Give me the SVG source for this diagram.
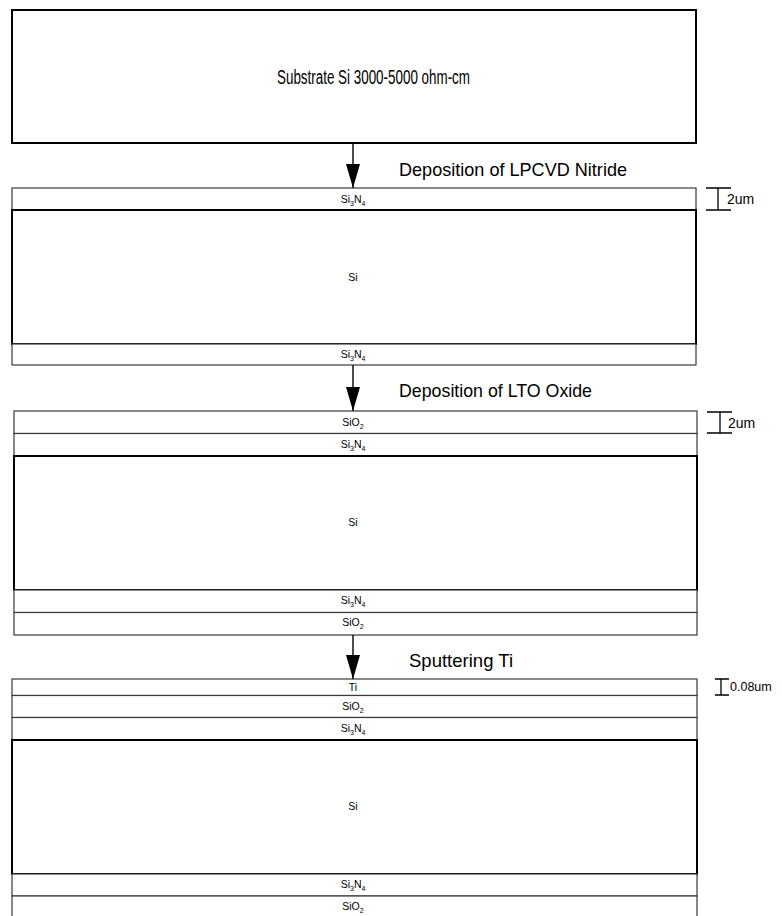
<svg xmlns="http://www.w3.org/2000/svg" width="782" height="916" viewBox="0 0 782 916">
<style>
.box{fill:#fff;stroke:#000;stroke-width:2}
.layer{fill:#fff;stroke:#3a3a3a;stroke-width:1.2}
.si{fill:#fff;stroke:#000;stroke-width:2}
.lbl{font-family:"Liberation Sans",Arial,sans-serif;font-size:10.5px;fill:#000;text-anchor:middle}
.sub{font-size:7px}
.title{font-family:"Liberation Sans",Arial,sans-serif;font-size:19px;fill:#000}
.dimt{font-family:"Liberation Sans",Arial,sans-serif;font-size:14px;fill:#000}
.dim{stroke:#000;stroke-width:1.3;fill:none}
.conn{stroke:#000;stroke-width:1.4;fill:none;marker-end:url(#ah)}
</style>
<defs>
<marker id="ah" markerUnits="userSpaceOnUse" markerWidth="24" markerHeight="14" refX="24" refY="7" orient="auto" viewBox="0 0 24 14">
<path d="M0,0 L24,7 L0,14 Z" fill="#000"/>
</marker>
</defs>
<rect width="782" height="916" fill="#fff"/>

<g id="substrate">
<rect class="box" x="12" y="10" width="684" height="133"/>
<text class="title" x="277" y="84" style="font-size:20px" textLength="193" lengthAdjust="spacingAndGlyphs">Substrate Si 3000-5000 ohm-cm</text>
</g>

<g id="stack1">
<rect class="layer" x="12" y="188" width="684" height="22"/>
<rect class="si" x="12" y="210" width="684" height="134"/>
<rect class="layer" x="12" y="344" width="684" height="21"/>
<text class="lbl" x="353" y="203">Si<tspan class="sub" dy="3">3</tspan><tspan dy="-3">N</tspan><tspan class="sub" dy="3">4</tspan></text>
<text class="lbl" x="353" y="281">Si</text>
<text class="lbl" x="353" y="358">Si<tspan class="sub" dy="3">3</tspan><tspan dy="-3">N</tspan><tspan class="sub" dy="3">4</tspan></text>
</g>
<g id="dim1">
<path class="dim" d="M718,188 V210 M706,188 H731 M706,210 H731"/>
<text class="dimt" x="727" y="204">2um</text>
</g>

<g id="stack2">
<rect class="layer" x="14" y="411" width="683" height="22.5"/>
<rect class="layer" x="14" y="433.5" width="683" height="22.5"/>
<rect class="si" x="14" y="456" width="683" height="134"/>
<rect class="layer" x="14" y="590" width="683" height="22.5"/>
<rect class="layer" x="14" y="612.5" width="683" height="22.5"/>
<text class="lbl" x="353" y="426">SiO<tspan class="sub" dy="3">2</tspan></text>
<text class="lbl" x="353" y="448">Si<tspan class="sub" dy="3">3</tspan><tspan dy="-3">N</tspan><tspan class="sub" dy="3">4</tspan></text>
<text class="lbl" x="353" y="526">Si</text>
<text class="lbl" x="353" y="604">Si<tspan class="sub" dy="3">3</tspan><tspan dy="-3">N</tspan><tspan class="sub" dy="3">4</tspan></text>
<text class="lbl" x="353" y="626">SiO<tspan class="sub" dy="3">2</tspan></text>
</g>
<g id="dim2">
<path class="dim" d="M720,412 V433 M707,412 H732 M707,433 H732"/>
<text class="dimt" x="728" y="428">2um</text>
</g>

<g id="stack3">
<rect class="layer" x="12" y="679" width="685" height="16.5"/>
<rect class="layer" x="12" y="695.5" width="685" height="22"/>
<rect class="layer" x="12" y="717.5" width="685" height="22.5"/>
<rect class="si" x="12" y="740" width="685" height="134"/>
<rect class="layer" x="12" y="874" width="685" height="22"/>
<rect class="layer" x="12" y="896" width="685" height="22"/>
<text class="lbl" x="353" y="691">Ti</text>
<text class="lbl" x="353" y="710">SiO<tspan class="sub" dy="3">2</tspan></text>
<text class="lbl" x="353" y="732">Si<tspan class="sub" dy="3">3</tspan><tspan dy="-3">N</tspan><tspan class="sub" dy="3">4</tspan></text>
<text class="lbl" x="353" y="810">Si</text>
<text class="lbl" x="353" y="888">Si<tspan class="sub" dy="3">3</tspan><tspan dy="-3">N</tspan><tspan class="sub" dy="3">4</tspan></text>
<text class="lbl" x="353" y="910">SiO<tspan class="sub" dy="3">2</tspan></text>
</g>
<g id="dim3">
<path class="dim" d="M721,679 V695 M715,679 H729 M715,695 H729"/>
<text class="dimt" x="730" y="691" style="font-size:12.5px">0.08um</text>
</g>

<g id="steps">
<text class="title" x="399" y="176" textLength="228" lengthAdjust="spacingAndGlyphs">Deposition of LPCVD Nitride</text>
<text class="title" x="399" y="397" textLength="193" lengthAdjust="spacingAndGlyphs">Deposition of LTO Oxide</text>
<text class="title" x="409" y="667" textLength="104" lengthAdjust="spacingAndGlyphs">Sputtering Ti</text>
</g>

<g id="connectors">
<line class="conn" x1="353" y1="143" x2="353" y2="188"/>
<line class="conn" x1="353" y1="365" x2="353" y2="411"/>
<line class="conn" x1="353" y1="635" x2="353" y2="679"/>
</g>
</svg>
